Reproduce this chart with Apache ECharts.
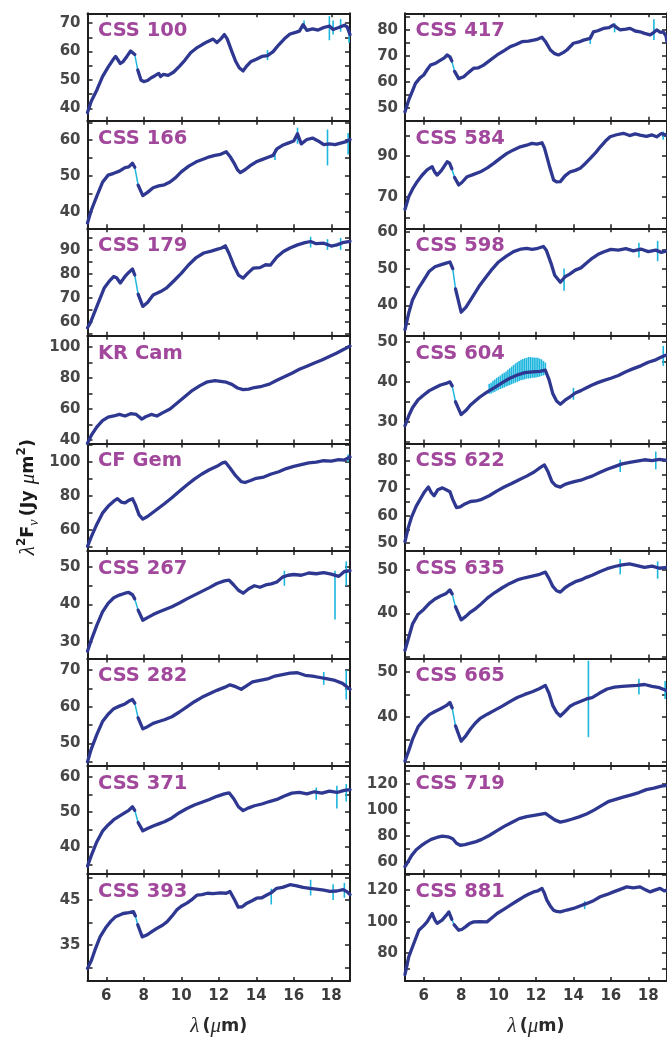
<!DOCTYPE html>
<html>
<head>
<meta charset="utf-8">
<script src="https://cdn.jsdelivr.net/npm/echarts@6/dist/echarts.min.js"></script>
<style>
  html, body { margin: 0; padding: 0; background: #ffffff; }
  #chart { width: 667px; height: 1038px; }
</style>
</head>
<body>
<div id="chart"></div>
<script>
// ---- spectra: [wavelength (um), lambda^2 F_nu (Jy um^2)], null marks the module seam ----
const css100 = [[5.0,38.5],[5.2,42.5],[5.5,46.5],[5.8,51.2],[6.1,54.5],[6.4,57.5],[6.5,58.3],[6.6,57.8],[6.75,55.8],[6.9,56.5],[7.1,58.3],[7.3,60.2],[7.4,60.8],[7.52,59],[7.6,null],[7.68,53.5],[7.85,50],[8.0,49.4],[8.2,49.8],[8.4,50.8],[8.6,51.5],[8.8,52.3],[8.9,51.2],[9.05,52],[9.3,51.6],[9.6,52.8],[9.9,54.8],[10.2,57],[10.5,59.6],[10.8,61.2],[11.1,62.4],[11.4,63.5],[11.7,64.4],[11.9,63.2],[12.1,64.4],[12.3,66],[12.45,64.5],[12.7,60],[12.9,56.6],[13.1,54.2],[13.3,53.2],[13.5,55],[13.7,56.4],[14.0,57.3],[14.3,58.3],[14.6,58.6],[14.9,60],[15.2,62.4],[15.5,64.5],[15.8,66.2],[16.1,66.8],[16.3,67.2],[16.5,69.5],[16.7,67.5],[17.0,68],[17.3,67.6],[17.6,68.5],[17.9,69],[18.1,67.8],[18.4,68.5],[18.7,69.3],[18.85,68.7],[19.0,66]];
const css166 = [[5.0,37],[5.2,40.5],[5.5,44.5],[5.8,48.3],[6.1,50.3],[6.4,50.8],[6.7,51.4],[7.0,52.4],[7.2,52.6],[7.4,53.6],[7.52,52.5],[7.6,null],[7.7,47.5],[7.95,44.6],[8.2,45.5],[8.5,46.8],[8.8,47.3],[9.1,47.6],[9.4,48.4],[9.7,49.6],[10.0,51.2],[10.4,52.8],[10.8,54],[11.2,54.8],[11.5,55.4],[11.8,55.8],[12.1,56.1],[12.4,56.8],[12.6,55.5],[12.8,53.8],[13.0,51.8],[13.15,51],[13.4,51.8],[13.7,53],[14.0,54],[14.3,54.6],[14.6,55.2],[14.9,55.8],[15.1,57.6],[15.4,58.6],[15.7,59.2],[16.0,59.8],[16.2,61.8],[16.4,59],[16.7,60.2],[17.0,60.6],[17.3,59.8],[17.6,58.8],[17.9,59],[18.2,58.8],[18.5,59.2],[18.8,59.6],[19.0,60.2]];
const css179 = [[5.0,57.5],[5.15,59.5],[5.5,66.4],[5.9,74.2],[6.2,77.3],[6.4,78.9],[6.55,78.4],[6.75,76.2],[7.0,78.9],[7.2,80.6],[7.4,82],[7.52,79.5],[7.6,null],[7.7,71.5],[7.95,66.4],[8.2,68],[8.5,71.2],[8.9,72.6],[9.2,74],[9.6,77],[10.0,80.2],[10.4,83.8],[10.8,86.8],[11.2,88.7],[11.6,89.5],[11.9,90.2],[12.15,90.8],[12.35,91.7],[12.55,88.5],[12.8,83.5],[13.05,79.5],[13.3,78.2],[13.55,80.3],[13.85,82.4],[14.2,82.6],[14.5,83.8],[14.75,83.6],[15.1,87],[15.45,89.3],[15.8,90.8],[16.2,92.1],[16.6,93],[16.9,93.5],[17.2,92.6],[17.6,92.8],[18.0,91.6],[18.3,92.1],[18.6,93],[19.0,93.6]];
const krCam = [[5.0,38],[5.2,43],[5.5,48.5],[5.8,52.5],[6.1,54.8],[6.4,55.5],[6.7,56.5],[7.0,55.5],[7.3,57],[7.6,56.5],[7.9,53.5],[8.1,55],[8.4,56.5],[8.7,55.5],[9.0,57.5],[9.4,60],[9.8,64],[10.2,68],[10.6,72],[11.0,75],[11.4,77.5],[11.8,78.2],[12.1,77.8],[12.4,77.2],[12.7,75.8],[13.0,73.5],[13.3,72.5],[13.6,72.8],[13.9,73.8],[14.3,74.6],[14.7,76],[15.1,78.5],[15.5,80.7],[15.9,83],[16.3,85.5],[16.7,87.5],[17.1,89.6],[17.5,91.5],[17.9,93.8],[18.3,96],[18.7,98.5],[19.0,100.5]];
const cfGem = [[5.0,50.5],[5.2,56],[5.5,63.5],[5.8,70],[6.1,74],[6.4,77],[6.6,78.5],[6.8,76.5],[7.0,76],[7.2,77.5],[7.4,78.5],[7.55,75],[7.75,69],[7.95,66.5],[8.2,68],[8.5,70.5],[8.8,73],[9.1,75.5],[9.5,79],[9.9,82.8],[10.3,86.5],[10.7,90],[11.1,93],[11.5,95.5],[11.9,97.5],[12.2,99.5],[12.35,100],[12.6,96.5],[12.9,92],[13.2,88.5],[13.4,88],[13.7,89.2],[14.0,90.5],[14.4,91.2],[14.8,93],[15.2,94.3],[15.6,96.2],[16.0,97.5],[16.4,98.5],[16.8,99.5],[17.2,100],[17.6,100.8],[18.0,100.6],[18.4,101.5],[18.7,101.2],[19.0,103]];
const css267 = [[5.0,27.5],[5.2,30.5],[5.5,34.5],[5.8,38],[6.1,40.3],[6.4,41.8],[6.7,42.5],[7.0,43],[7.2,43.2],[7.4,42.6],[7.52,41.5],[7.6,null],[7.7,38.5],[7.95,35.8],[8.2,36.5],[8.5,37.3],[8.8,38],[9.1,38.6],[9.5,39.4],[9.9,40.4],[10.3,41.5],[10.7,42.5],[11.1,43.5],[11.5,44.5],[11.9,45.6],[12.3,46.3],[12.55,46.5],[12.8,45.2],[13.05,43.8],[13.3,43],[13.6,44.2],[13.9,45],[14.2,44.6],[14.5,45.2],[14.8,45.5],[15.1,46],[15.4,47.3],[15.7,47.8],[16.0,48],[16.4,47.8],[16.8,48.4],[17.2,48.2],[17.6,48.5],[18.0,48.1],[18.4,47.5],[18.7,48.8],[19.0,49]];
const css282 = [[5.0,45],[5.2,48.5],[5.5,52.5],[5.8,56],[6.1,58],[6.4,59.5],[6.7,60.2],[7.0,60.8],[7.2,61.5],[7.4,62],[7.52,61],[7.6,null],[7.7,57],[7.95,54],[8.2,54.6],[8.5,55.5],[8.8,56],[9.1,56.5],[9.5,57.3],[9.9,58.6],[10.3,60],[10.7,61.4],[11.1,62.6],[11.5,63.6],[11.9,64.5],[12.3,65.3],[12.6,66],[12.9,65.5],[13.2,64.8],[13.5,65.8],[13.8,66.8],[14.2,67.2],[14.6,67.6],[15.0,68.4],[15.4,68.8],[15.8,69.2],[16.2,69.3],[16.6,68.6],[17.0,68.4],[17.4,68],[17.8,67.6],[18.2,67.2],[18.6,66.4],[19.0,64.8]];
const css371 = [[5.0,34.5],[5.2,37.5],[5.5,41.5],[5.8,44.5],[6.1,46.3],[6.4,47.8],[6.7,48.8],[7.0,49.8],[7.2,50.5],[7.4,51.5],[7.52,50.5],[7.6,null],[7.7,47],[7.95,44.6],[8.2,45.3],[8.5,46],[8.8,46.6],[9.1,47.2],[9.5,48.3],[9.9,49.8],[10.3,51],[10.7,52],[11.1,52.8],[11.5,53.6],[11.9,54.5],[12.3,55.2],[12.55,55.5],[12.8,53.8],[13.05,51.5],[13.3,50.4],[13.6,51.2],[13.9,51.8],[14.3,52.3],[14.7,53],[15.1,53.6],[15.5,54.6],[15.9,55.4],[16.3,55.6],[16.7,55.2],[17.1,55.8],[17.5,55.4],[17.9,56],[18.3,55.6],[18.7,56.2],[19.0,56.4]];
const css393 = [[5.0,29.8],[5.2,31.5],[5.4,33.9],[5.67,36.8],[6.0,39],[6.25,40.3],[6.5,41.3],[6.9,42],[7.2,42.2],[7.45,42.4],[7.55,41.5],[7.6,null],[7.68,39.5],[7.92,36.8],[8.16,37.2],[8.45,38],[8.7,38.7],[9.0,39.4],[9.25,40.2],[9.5,41.4],[9.76,42.8],[10.0,43.6],[10.3,44.3],[10.6,45.2],[10.85,46.1],[11.1,46.2],[11.4,46.5],[11.7,46.4],[12.07,46.6],[12.4,46.5],[12.6,46.9],[12.85,45],[13.04,43.4],[13.25,43.5],[13.5,44.3],[13.8,44.9],[14.02,45.4],[14.3,45.5],[14.56,46.1],[14.8,46.6],[15.09,47.6],[15.4,47.8],[15.8,48.4],[16.1,48.2],[16.5,47.8],[16.85,47.6],[17.2,47.4],[17.6,47.2],[17.93,46.9],[18.3,47],[18.64,47.3],[18.85,46.8],[19.0,46.2]];
const css417 = [[5.0,48.5],[5.2,53],[5.4,56.5],[5.56,59.4],[5.8,61.5],[6.0,62.6],[6.2,64.8],[6.36,66.4],[6.6,67],[6.9,68.3],[7.1,69.2],[7.25,70.3],[7.4,69.6],[7.5,68],[7.57,null],[7.65,64],[7.87,61.2],[8.14,61.9],[8.4,63.6],[8.67,65.2],[8.9,65.3],[9.2,66.4],[9.5,68],[9.92,70.3],[10.3,72],[10.63,73.5],[10.9,74.2],[11.25,75.4],[11.6,75.6],[11.87,76],[12.1,76.4],[12.32,77.1],[12.5,75.5],[12.77,72.2],[13.0,70.8],[13.2,70.3],[13.45,71.2],[13.65,72.2],[14.0,74.8],[14.3,75.3],[14.54,76],[14.9,76.7],[15.07,79.2],[15.3,79.6],[15.6,80.5],[15.9,80.8],[16.14,81.8],[16.35,80.6],[16.5,79.9],[16.8,80.2],[17.03,80.5],[17.3,79.5],[17.56,79.2],[17.8,78.6],[18.1,78],[18.3,79],[18.45,79.9],[18.65,79],[18.8,79.2],[18.95,77.5],[19.0,75.4]];
const css584 = [[5.0,64],[5.2,70.1],[5.4,73.8],[5.65,77.5],[5.9,80.5],[6.18,83.2],[6.45,84.8],[6.6,82],[6.72,80.7],[6.95,83],[7.25,87.2],[7.38,86.5],[7.5,83.8],[7.57,null],[7.65,79.5],[7.87,75.9],[8.05,77.2],[8.32,79.9],[8.6,80.8],[9.03,82.3],[9.4,84.2],[9.74,86.4],[10.1,89],[10.45,91.3],[10.8,93],[11.16,94.5],[11.5,95.3],[11.78,96.2],[12.05,95.8],[12.32,96.5],[12.45,94],[12.58,89.7],[12.75,84],[12.94,78.3],[13.1,77.4],[13.3,77.5],[13.55,80.3],[13.83,82.3],[14.1,83],[14.36,84],[14.65,86.5],[14.9,88.9],[15.2,91.8],[15.44,94.5],[15.7,97.2],[15.96,99.4],[16.3,100.4],[16.67,101.1],[17.0,100],[17.3,100.8],[17.56,100.2],[17.9,99.6],[18.2,100.3],[18.45,99.4],[18.7,101],[19.0,100.2]];
const css598 = [[5.0,33.5],[5.2,38],[5.4,41.5],[5.7,44.5],[6.0,46.9],[6.3,49.3],[6.6,50.5],[6.9,51],[7.2,51.5],[7.4,51.8],[7.55,50],[7.62,null],[7.7,44.5],[8.0,38.2],[8.25,39.5],[8.5,41.5],[8.75,43.5],[9.0,45.5],[9.3,47.5],[9.6,49.5],[10.0,51.8],[10.4,53.3],[10.8,54.6],[11.2,55.3],[11.5,55.5],[11.8,55.2],[12.1,55.5],[12.4,56],[12.55,55],[12.8,51.5],[13.0,48.2],[13.3,46.3],[13.55,47.8],[13.8,48.5],[14.1,49.6],[14.4,50.2],[14.7,51.5],[15.0,52.8],[15.3,53.8],[15.6,54.5],[16.0,55.2],[16.4,55],[16.8,55.4],[17.2,54.8],[17.6,55.3],[18.0,54.6],[18.4,55],[18.7,54.4],[19.0,54.8]];
const css604 = [[5.0,29],[5.2,31.5],[5.4,33.5],[5.7,35.5],[6.0,36.7],[6.3,37.8],[6.6,38.5],[6.9,39.2],[7.2,39.6],[7.4,40],[7.52,39],[7.6,null],[7.7,35],[8.0,31.8],[8.25,32.8],[8.5,34.2],[8.75,35.2],[9.0,36.2],[9.4,37.5],[9.8,38.6],[10.2,39.8],[10.6,40.9],[11.0,41.7],[11.4,42.3],[11.8,42.5],[12.2,42.6],[12.5,42.9],[12.7,40.5],[12.9,37],[13.1,35.2],[13.3,34.4],[13.55,35.4],[13.8,36.2],[14.1,37.2],[14.4,37.8],[14.7,38.5],[15.0,39.2],[15.3,39.8],[15.6,40.3],[16.0,40.9],[16.4,41.6],[16.8,42.5],[17.2,43.3],[17.6,44],[18.0,44.9],[18.4,45.5],[18.7,46.2],[19.0,46.8]];
const css622 = [[5.0,50.5],[5.15,55],[5.35,59.5],[5.6,63.5],[5.85,66.5],[6.05,68.8],[6.25,70.5],[6.4,68.5],[6.55,67.3],[6.75,69.5],[7.0,70.2],[7.2,69.5],[7.4,68.8],[7.55,66],[7.75,63],[7.95,63.2],[8.2,64.3],[8.5,65.2],[8.8,65.4],[9.1,66],[9.5,67.3],[9.9,69],[10.3,70.5],[10.7,71.8],[11.1,73.2],[11.5,74.5],[11.9,76],[12.2,77.5],[12.45,78.6],[12.65,76],[12.85,72.5],[13.05,71],[13.3,70.5],[13.55,71.5],[13.8,72],[14.1,72.6],[14.4,73],[14.7,73.8],[15.0,74.5],[15.4,75.8],[15.8,77],[16.2,78],[16.6,79],[17.0,79.5],[17.4,80],[17.8,80.5],[18.2,80.2],[18.6,80.6],[19.0,80.3]];
const css635 = [[5.0,31.5],[5.2,34.5],[5.4,37.5],[5.7,39.8],[6.0,40.9],[6.3,42.3],[6.6,43.3],[6.9,44],[7.2,44.6],[7.4,45.4],[7.52,44.5],[7.6,null],[7.7,41.5],[8.0,38.5],[8.25,39.3],[8.5,40.3],[8.75,41],[9.0,41.9],[9.4,43.5],[9.8,44.8],[10.2,45.9],[10.6,46.9],[11.0,47.7],[11.4,48.2],[11.8,48.6],[12.2,49],[12.5,49.5],[12.7,48],[12.9,46.2],[13.1,45.2],[13.3,44.9],[13.55,45.9],[13.8,46.6],[14.1,47.3],[14.4,47.7],[14.7,48.3],[15.0,48.8],[15.4,49.6],[15.8,50.3],[16.2,50.8],[16.6,51.2],[17.0,51.4],[17.4,51],[17.8,50.6],[18.2,50.9],[18.6,50.4],[19.0,50.6]];
const css665 = [[5.0,30.2],[5.2,32.5],[5.4,35],[5.7,37.8],[6.0,39.3],[6.3,40.5],[6.6,41.2],[6.9,41.8],[7.2,42.5],[7.4,43.2],[7.52,42],[7.6,null],[7.7,38],[8.0,34.6],[8.25,35.8],[8.5,37.3],[8.75,38.6],[9.0,39.6],[9.4,40.6],[9.8,41.5],[10.2,42.4],[10.6,43.4],[11.0,44.3],[11.4,45],[11.8,45.6],[12.2,46.3],[12.5,47],[12.7,45.2],[12.9,42.5],[13.1,41],[13.3,40.2],[13.55,41.2],[13.8,42.3],[14.1,43],[14.4,43.5],[14.7,44],[15.0,44.3],[15.4,45.3],[15.8,46.2],[16.2,46.6],[16.6,46.8],[17.0,46.9],[17.4,47],[17.8,47.2],[18.2,46.8],[18.6,46.5],[19.0,45.8]];
const css719 = [[5.0,56.5],[5.15,60],[5.35,65],[5.6,69.5],[5.85,72.5],[6.1,75],[6.4,77.5],[6.7,79],[7.0,80],[7.3,79.5],[7.55,78],[7.75,74.5],[7.95,73],[8.2,73.5],[8.5,74.6],[8.8,75.8],[9.1,77.5],[9.5,80.5],[9.9,84],[10.3,87.5],[10.7,90.5],[11.1,93.5],[11.5,95],[11.9,96],[12.2,96.8],[12.5,97.5],[12.75,95],[13.0,92.5],[13.3,90.8],[13.6,91.8],[13.9,93],[14.3,94.8],[14.7,97],[15.1,100],[15.5,103.5],[15.9,106.8],[16.3,108.5],[16.7,110.2],[17.1,111.8],[17.5,113.5],[17.9,115.8],[18.3,117],[18.7,118.5],[19.0,119]];
const css881 = [[5.0,66.5],[5.2,77.7],[5.47,86.2],[5.74,94.6],[6.0,97.5],[6.18,99.9],[6.45,105.2],[6.6,101],[6.72,98.9],[6.98,101],[7.2,104],[7.34,106.2],[7.45,103],[7.5,101.5],[7.56,null],[7.63,98],[7.87,94.6],[8.05,95.2],[8.23,96.7],[8.45,98.8],[8.67,99.9],[9.0,100],[9.38,99.9],[9.65,102.5],[9.92,105.2],[10.3,108],[10.63,110.5],[11.0,113.3],[11.34,115.8],[11.6,117.4],[11.87,118.9],[12.1,119.6],[12.32,121.1],[12.45,118],[12.58,113.7],[12.76,110],[12.94,107.3],[13.1,106.5],[13.3,106.2],[13.65,107.4],[14.0,108.4],[14.35,110],[14.72,111.6],[15.1,113.5],[15.43,115.8],[15.8,117.3],[16.14,118.9],[16.5,120.5],[16.85,122.1],[17.2,121.5],[17.56,122.1],[17.85,120.2],[18.1,118.9],[18.35,120],[18.63,121.1],[18.85,119.5],[19.0,120]];

// ---- uncertainty spikes: [wavelength, low, high] ----
const css100Err = [[14.6,57,60.5],[16.55,68,71],[17.9,64,72.5],[18.1,66,71],[18.5,67,71.5],[18.95,63,68]];
const css166Err = [[15.0,54.5,57.5],[16.2,59,63.5],[17.8,53,63],[18.9,56,62]];
const css179Err = [[16.9,91,95.5],[17.8,90,94.5],[18.5,90,95]];
const krCamErr = [];
const cfGemErr = [[18.9,100,104.5]];
const css267Err = [[15.5,45,49],[18.2,36,49],[18.8,45,51.5]];
const css282Err = [[17.6,66,69.5],[18.8,62,70]];
const css371Err = [[17.2,53.5,57],[18.3,51,57.5],[18.8,53,58]];
const css393Err = [[14.8,44,47.5],[16.9,46,49.5],[18.1,45,48.5],[18.7,45.5,48.8]];
const css417Err = [[14.9,74.5,78],[16.2,79,82.5],[18.3,76,84]];
const css584Err = [[18.8,98,102]];
const css598Err = [[13.5,44,50],[17.5,53,57],[18.5,52,57.5]];
const css604Err = [[9.5,37,39.5],[9.6,37.1,39.8],[9.7,37.3,40.3],[9.8,37.5,40.6],[9.9,37.8,41],[10.0,38,41.3],[10.1,38.2,41.6],[10.2,38.4,42],[10.3,38.6,42.3],[10.4,38.8,42.6],[10.5,39,43],[10.6,39.2,43.4],[10.7,39.4,43.8],[10.8,39.6,44.2],[10.9,39.8,44.6],[11.0,40,44.9],[11.1,40.2,45.2],[11.2,40.4,45.5],[11.3,40.5,45.7],[11.4,40.6,45.9],[11.5,40.8,46],[11.6,40.8,46.2],[11.7,40.9,46.2],[11.8,41,46.1],[11.9,41,46.1],[12.0,41.1,46],[12.1,41.2,46],[12.2,41.3,45.8],[12.3,41.5,45.6],[12.4,41.6,45.2],[12.5,41.8,44.8],[14.0,35.5,38.5],[18.8,44,49]];
const css622Err = [[16.5,76,80.5],[18.4,77,83.5]];
const css635Err = [[16.5,49,52.5],[18.5,48,52]];
const css665Err = [[14.8,35.5,52.5],[17.5,45,48.5],[18.9,44,48]];
const css719Err = [];
const css881Err = [[14.6,108,113]];

// ---- panel order: left column top to bottom, then right column ----
const starNames = ['CSS 100','CSS 166','CSS 179','KR Cam','CF Gem','CSS 267','CSS 282','CSS 371','CSS 393',
                   'CSS 417','CSS 584','CSS 598','CSS 604','CSS 622','CSS 635','CSS 665','CSS 719','CSS 881'];
const spectra = [css100, css166, css179, krCam, cfGem, css267, css282, css371, css393,
                 css417, css584, css598, css604, css622, css635, css665, css719, css881];
const errors = [css100Err, css166Err, css179Err, krCamErr, cfGemErr, css267Err, css282Err, css371Err, css393Err,
                css417Err, css584Err, css598Err, css604Err, css622Err, css635Err, css665Err, css719Err, css881Err];
const yMin = [35.6, 35.5, 54.1, 37.9, 47.8, 25.6, 43.9, 32.4, 27.0,
              45.0, 54.7, 31.8, 24.6, 47.1, 29.6, 29.1, 51.3, 62.4];
const yMax = [73.5, 65.4, 99.0, 107.0, 111.0, 54.3, 73.2, 63.2, 50.9,
              86.3, 107.2, 60.9, 51.5, 86.5, 54.4, 53.0, 134.0, 130.6];
const yLabelValues = [[40,50,60,70],[40,50,60],[60,70,80,90],[40,60,80,100],[60,80,100],[30,40,50],[50,60,70],[40,50,60],[35,45],
                      [50,60,70,80],[70,90],[40,50,60],[30,40,50],[50,60,70,80],[40,50],[40,50],[60,80,100,120],[80,100,120]];
const yTickStep = [5,5,5,10,10,5,5,5,5, 5,10,5,5,5,5,5,10,10];
const xTickValues = [6, 8, 10, 12, 14, 16, 18];

// ---- layout ----
const colLeft = [87.5, 405];
const plotW = 262.5;
const top0 = 13.3;
const rowH = 107.52;
const AXIS = '#1e1e1e';
const LINE = '#2f3891';
const CYAN = '#1db6de';
const LABEL = '#a1479c';

function tickList(min, max, step) {
  const out = [];
  for (let v = Math.ceil(min / step) * step; v <= max + 1e-9; v += step) out.push(+v.toFixed(6));
  return out;
}

const grid = [], xAxis = [], yAxis = [], series = [], title = [];
const tickStyle = { color: AXIS, width: 1.5 };
const lineStyleAxis = { color: AXIS, width: 2 };
const sans = 'DejaVu Sans';

starNames.forEach((name, p) => {
  const col = p < 9 ? 0 : 1;
  const row = p % 9;
  const top = top0 + row * rowH;
  grid.push({ left: colLeft[col], top: top, width: plotW, height: rowH, containLabel: false });

  const bottomRow = row === 8;
  // bottom and top wavelength axes
  xAxis.push({
    gridIndex: p, type: 'value', min: 5, max: 19, position: 'bottom',
    axisLine: { show: true, onZero: false, lineStyle: lineStyleAxis },
    axisTick: { show: true, inside: true, length: 4, customValues: xTickValues, lineStyle: tickStyle },
    axisLabel: { show: bottomRow, customValues: xTickValues, margin: 8,
                 fontFamily: sans, fontWeight: 'bold', fontSize: 15, color: '#3c3c3c' },
    splitLine: { show: false },
    name: bottomRow ? '{l|λ} {b|(}{l|μ}{b|m)}' : '',
    nameLocation: 'middle', nameGap: 35,
    nameTextStyle: {
      rich: {
        l: { fontFamily: 'Liberation Serif', fontStyle: 'italic', fontSize: 21, color: '#2a2a2a' },
        b: { fontFamily: sans, fontWeight: 'bold', fontSize: 17.5, color: '#2a2a2a' }
      }
    }
  });
  xAxis.push({
    gridIndex: p, type: 'value', min: 5, max: 19, position: 'top',
    axisLine: { show: true, onZero: false, lineStyle: lineStyleAxis },
    axisTick: { show: true, inside: true, length: 4, customValues: xTickValues, lineStyle: tickStyle },
    axisLabel: { show: false }, splitLine: { show: false }
  });

  const ticks = tickList(yMin[p], yMax[p], yTickStep[p]);
  const isMiddleLeft = p === 4;
  yAxis.push({
    gridIndex: p, type: 'value', min: yMin[p], max: yMax[p], position: 'left',
    axisLine: { show: true, onZero: false, lineStyle: lineStyleAxis },
    axisTick: { show: true, inside: true, length: 5, customValues: ticks, lineStyle: tickStyle },
    axisLabel: { show: true, customValues: yLabelValues[p], margin: 7,
                 fontFamily: sans, fontWeight: 'bold', fontSize: 15, color: '#474747' },
    splitLine: { show: false },
    name: isMiddleLeft ? '{l|λ}{s|2}{b|F}{n|ν} {b|(Jy }{l|μ}{b|m}{s|2}{b|)}' : '',
    nameLocation: 'middle', nameRotate: 90, nameGap: 46,
    nameTextStyle: {
      rich: {
        l: { fontFamily: 'Liberation Serif', fontStyle: 'italic', fontSize: 21, color: '#1a1a1a', lineHeight: 26, verticalAlign: 'middle' },
        b: { fontFamily: sans, fontWeight: 'bold', fontSize: 17.5, color: '#1a1a1a', lineHeight: 26, verticalAlign: 'middle' },
        s: { fontFamily: sans, fontWeight: 'bold', fontSize: 12, color: '#1a1a1a', lineHeight: 12, verticalAlign: 'top' },
        n: { fontFamily: 'Liberation Serif', fontStyle: 'italic', fontSize: 14, color: '#1a1a1a', lineHeight: 13, verticalAlign: 'bottom' }
      }
    }
  });
  yAxis.push({
    gridIndex: p, type: 'value', min: yMin[p], max: yMax[p], position: 'right',
    axisLine: { show: true, onZero: false, lineStyle: lineStyleAxis },
    axisTick: { show: true, inside: true, length: 5, customValues: ticks, lineStyle: tickStyle },
    axisLabel: { show: false }, splitLine: { show: false }
  });

  const data = spectra[p];
  // thin uncertainty trace under the main curve (shows through the module seam)
  series.push({
    type: 'line', xAxisIndex: 2 * p, yAxisIndex: 2 * p, silent: true,
    data: data.filter(d => d[1] !== null), showSymbol: false, z: 1,
    lineStyle: { color: CYAN, width: 1.5 }
  });
  series.push({
    type: 'custom', xAxisIndex: 2 * p, yAxisIndex: 2 * p, silent: true, z: 2,
    data: errors[p],
    encode: { x: 0, y: [1, 2] },
    renderItem: (params, api) => {
      const a = api.coord([api.value(0), api.value(1)]);
      const b = api.coord([api.value(0), api.value(2)]);
      return { type: 'line', shape: { x1: a[0], y1: a[1], x2: b[0], y2: b[1] },
               style: { stroke: CYAN, lineWidth: 1.6 } };
    }
  });
  series.push({
    type: 'line', xAxisIndex: 2 * p, yAxisIndex: 2 * p, silent: true,
    data: data, showSymbol: false, connectNulls: false, z: 3,
    lineStyle: { color: LINE, width: 3.3, join: 'round', cap: 'round' }
  });

  title.push({
    text: name, left: colLeft[col] + 10.5, top: top + 8, padding: 0,
    textStyle: { fontFamily: sans, fontWeight: 'bold', fontSize: 19.5, color: LABEL }
  });
});

const chart = echarts.init(document.getElementById('chart'), null, { renderer: 'canvas' });
chart.setOption({
  animation: false,
  backgroundColor: '#ffffff',
  title: title,
  grid: grid,
  xAxis: xAxis,
  yAxis: yAxis,
  series: series
});
</script>
</body>
</html>
